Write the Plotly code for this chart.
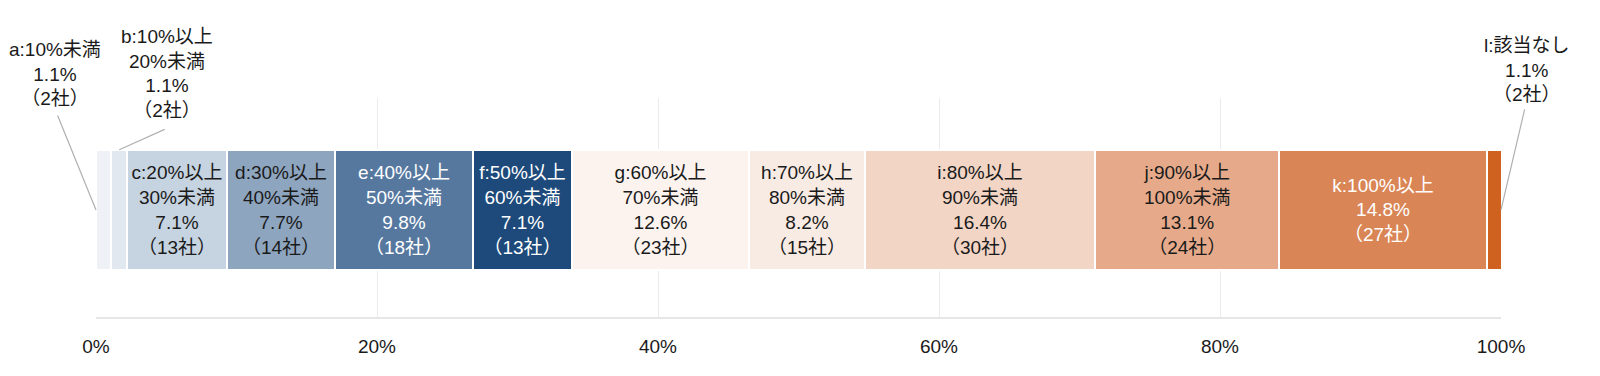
import plotly.graph_objects as go

categories = ["a:10%未満", "b:10%以上<br>20%未満", "c:20%以上<br>30%未満", "d:30%以上<br>40%未満",
              "e:40%以上<br>50%未満", "f:50%以上<br>60%未満", "g:60%以上<br>70%未満", "h:70%以上<br>80%未満",
              "i:80%以上<br>90%未満", "j:90%以上<br>100%未満", "k:100%以上", "l:該当なし"]
percents = [1.1, 1.1, 7.1, 7.7, 9.8, 7.1, 12.6, 8.2, 16.4, 13.1, 14.8, 1.1]
companies = [2, 2, 13, 14, 18, 13, 23, 15, 30, 24, 27, 2]
tick_vals = [0, 20, 40, 60, 80, 100]
tick_text = ["0%", "20%", "40%", "60%", "80%", "100%"]

colors = ["#eef2f7", "#e1e8ef", "#c6d3e0", "#8ea5bf", "#56789f", "#1d4a7a",
          "#fcf3ef", "#f8ebe4", "#f2d5c5", "#e6aa8b", "#d98555", "#d0621f"]
text_colors = ["#1a1a1a", "#1a1a1a", "#1a1a1a", "#1a1a1a", "#ffffff", "#ffffff",
               "#1a1a1a", "#1a1a1a", "#1a1a1a", "#1a1a1a", "#ffffff", "#1a1a1a"]
inside = [False, False, True, True, True, True, True, True, True, True, True, False]

FONT = "Arial, 'Liberation Sans', 'Noto Sans CJK JP', sans-serif"
FS = 19

def label(i):
    return f"{categories[i]}<br>{percents[i]:.1f}%<br>（{companies[i]}社）"

fig = go.Figure()
for i in range(len(categories)):
    fig.add_trace(go.Bar(
        x=[percents[i]], y=[0], orientation="h", width=0.55,
        marker=dict(color=colors[i], line=dict(color="white", width=2)),
        text=[label(i)] if inside[i] else None,
        textposition="inside" if inside[i] else "none",
        insidetextanchor="middle", constraintext="none", textangle=0,
        insidetextfont=dict(color=text_colors[i], size=FS, family=FONT),
        hoverinfo="skip", showlegend=False,
    ))

# outside labels (paper coords) with leader lines
outside_text = [(0, -0.0292, 1.11), (1, 0.0505, 1.112), (11, 1.0185, 1.126)]
for i, tx, ty in outside_text:
    fig.add_annotation(x=tx, y=ty, xref="paper", yref="paper", text=label(i), showarrow=False,
                       xanchor="center", yanchor="middle", align="center",
                       font=dict(size=FS, color="#1a1a1a", family=FONT))
leaders = [(0.0, 0.0, -39, -96), (1.65, 0.275, 47, -21), (100.0, 0.0, 24, -102)]
for hx, hy, ax, ay in leaders:
    fig.add_annotation(x=hx, y=hy, xref="x", yref="y", text="", showarrow=True,
                       arrowhead=0, arrowwidth=1.2, arrowcolor="#b0b0b0", ax=ax, ay=ay,
                       standoff=0, startstandoff=0)

fig.update_layout(
    barmode="stack", width=1584, height=360,
    margin=dict(l=88, r=91, t=90, b=51, autoexpand=False),
    paper_bgcolor="white", plot_bgcolor="white",
    font=dict(family=FONT, size=FS, color="#1a1a1a"),
    bargap=0,
)
fig.update_xaxes(range=[0, 100], tickvals=tick_vals, ticktext=tick_text, showgrid=True,
                 gridcolor="#ebebeb", gridwidth=1, showline=True, linecolor="#e6e6e6", linewidth=2,
                 zeroline=False, ticks="", ticklabelstandoff=11,
                 tickfont=dict(size=FS, color="#1a1a1a", family=FONT))
fig.update_yaxes(range=[-0.489, 0.511], showticklabels=False, showgrid=False, zeroline=False,
                 showline=False)

fig.write_html("out.html")
